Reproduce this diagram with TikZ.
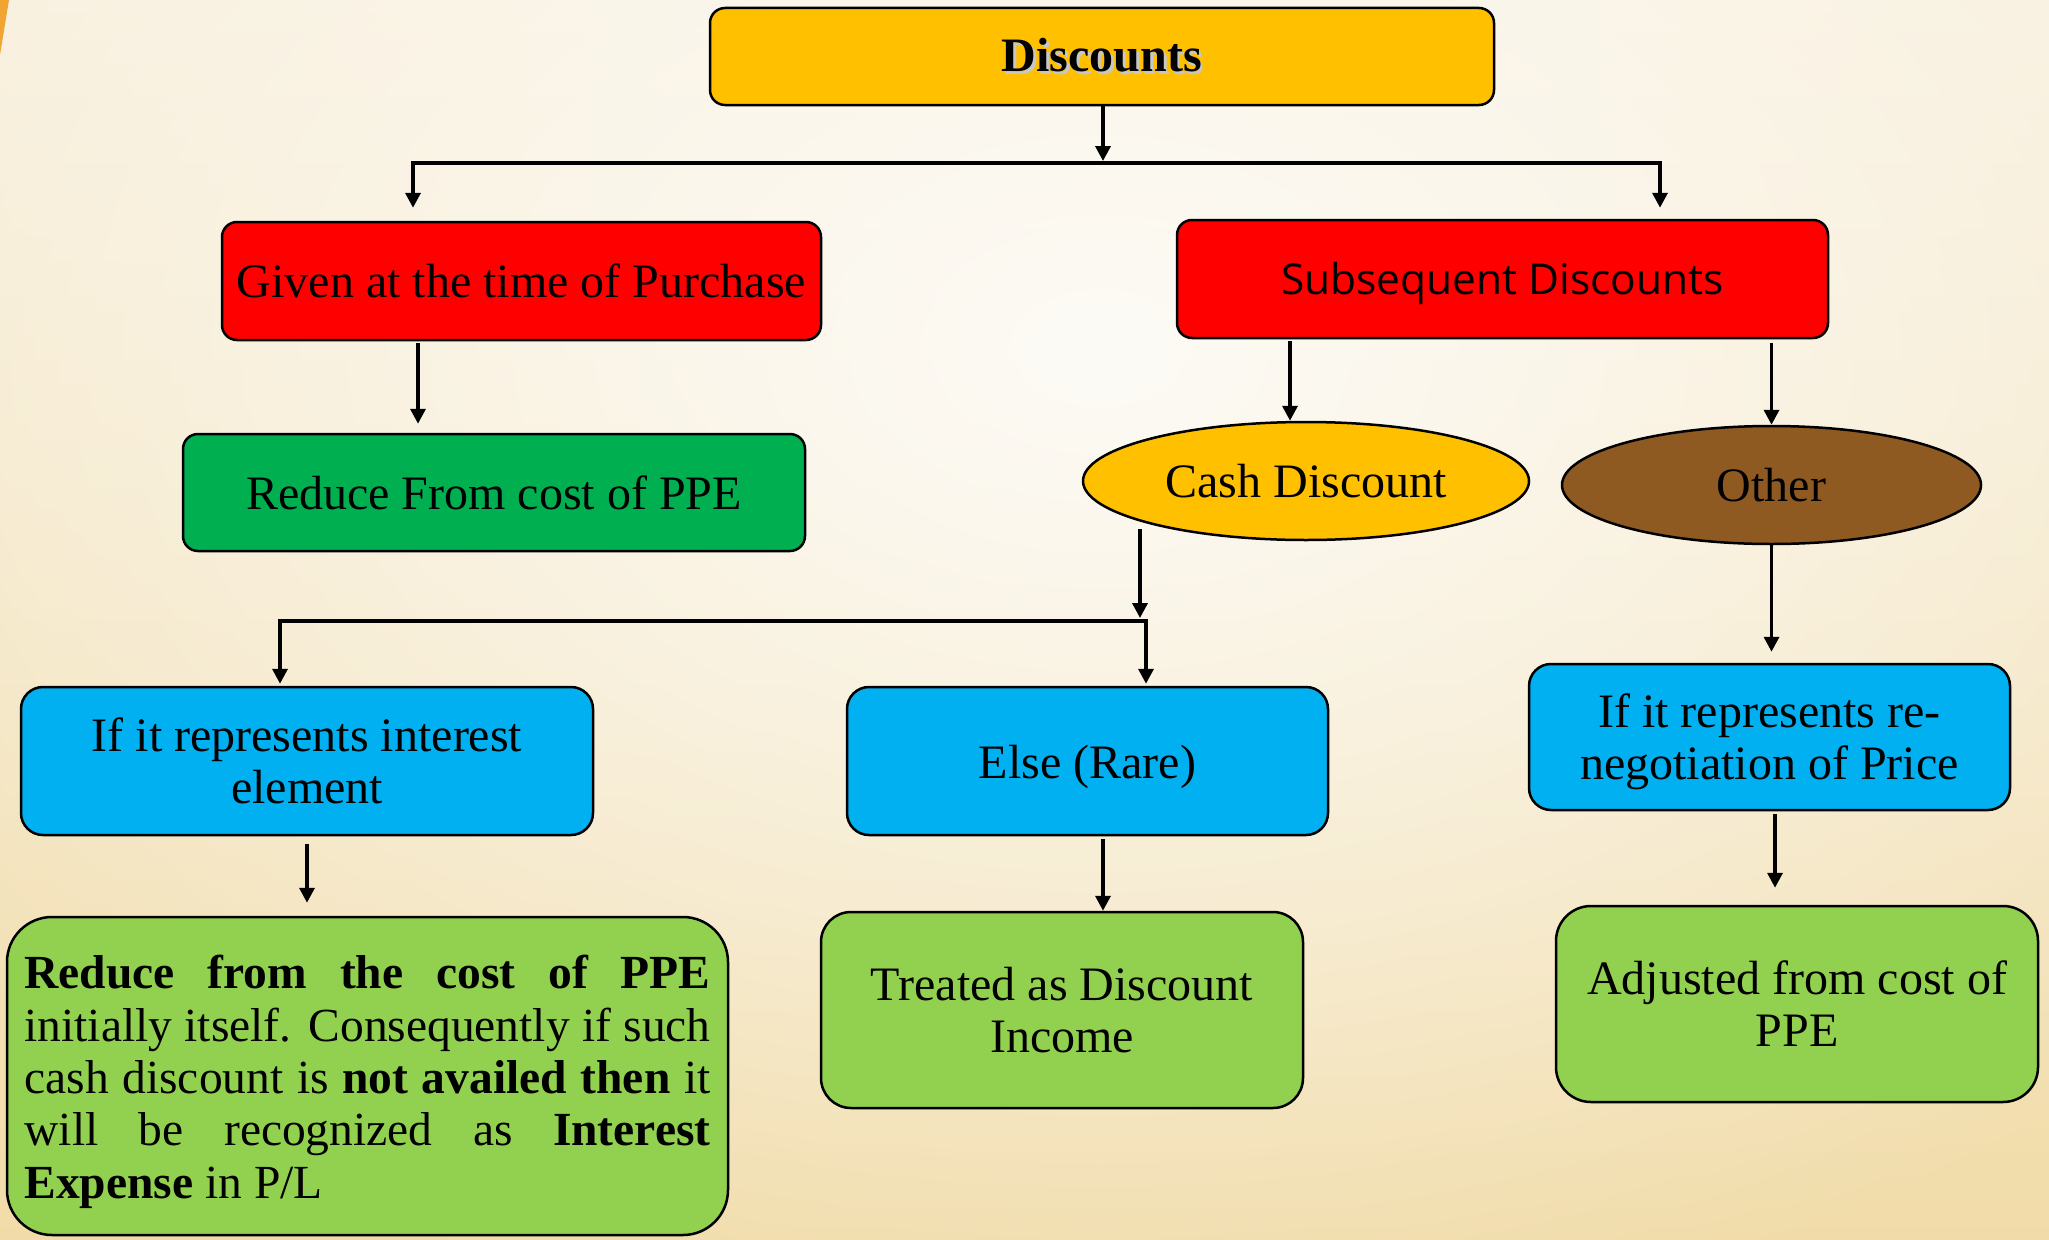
\documentclass[tikz,border=0pt]{standalone}
\usepackage{fontspec}
\setmainfont{Liberation Serif}
\newfontfamily\subsfont{Open Sans}
\usetikzlibrary{arrows.meta,shapes.geometric,fadings}

\definecolor{bgtop}{HTML}{F8EFDB}
\definecolor{bgbot}{HTML}{F1DCA9}
\definecolor{bgglow}{HTML}{FDFBF6}
\definecolor{stripe}{HTML}{F0A532}
\definecolor{gold}{HTML}{FFC000}
\definecolor{hotred}{HTML}{FF0000}
\definecolor{leaf}{HTML}{00B050}
\definecolor{sky}{HTML}{00B0F0}
\definecolor{lime}{HTML}{92D050}
\definecolor{bark}{HTML}{8F5922}

\tikzfading[name=glowfade, inner color=transparent!0, outer color=transparent!100]

\tikzset{
  rbox/.style={draw=black, line width=2.5pt, rounded corners=#1, align=center,
    inner sep=0pt, font=\fontsize{48}{52}\selectfont},
  oval/.style={ellipse, draw=black, line width=2.5pt, inner sep=0pt,
    font=\fontsize{48}{52}\selectfont},
  arr/.style={line width=3.5pt, line join=miter,
    -{Triangle[width=15pt,length=15pt]}},
}

\begin{document}
\begin{tikzpicture}[x=1pt,y=-1pt]
\useasboundingbox (0,0) rectangle (2049,1239);

% page background: warm vertical wash with a pale glow near the top
\begin{scope}
  \clip (0,0) rectangle (2049,1239);
  \shade[top color=bgtop, bottom color=bgbot] (0,0) rectangle (2049,1239);
  \fill[bgglow, path fading=glowfade] (-400,-650) rectangle (2600,1350);
  \fill[stripe] (0,0) -- (9,0) -- (0,55) -- cycle;
\end{scope}

% boxes
\node[rbox=15pt, fill=gold, minimum width=784pt, minimum height=97pt,
  font=\bfseries\fontsize{48}{52}\selectfont] (disc) at (1102,56.5)
  {\rlap{\raisebox{-2.5pt}{\hspace{2.5pt}\color{black!22}Discounts}}Discounts};

\node[rbox=15pt, fill=hotred, minimum width=599pt, minimum height=118pt] (given) at (521.5,281)
  {Given at the time of Purchase};
\node[rbox=15pt, fill=hotred, minimum width=651pt, minimum height=118pt,
  text height=31pt, text depth=0pt,
  font=\subsfont\fontsize{42.5}{50}\selectfont] (subs) at (1502.5,279)
  {Subsequent Discounts};

\node[rbox=15pt, fill=leaf, minimum width=622pt, minimum height=117pt] (reduce) at (494,492.5)
  {Reduce From cost of PPE};
\node[oval, fill=gold, minimum width=446pt, minimum height=118pt] (cash) at (1306,481)
  {Cash Discount};
\node[oval, fill=bark, minimum width=419pt, minimum height=118pt] (other) at (1771.5,485)
  {Other};

\node[rbox=22pt, fill=sky, minimum width=572pt, minimum height=148pt] (interest) at (307,761)
  {If it represents interest\\element};
\node[rbox=22pt, fill=sky, minimum width=481pt, minimum height=148pt,
  text height=34pt, text depth=0pt] (elsebox) at (1087.5,761)
  {Else (Rare)};
\node[rbox=22pt, fill=sky, minimum width=481pt, minimum height=146pt] (reneg) at (1769.5,737)
  {\rule{0pt}{43pt}If it represents re-\\negotiation of Price};

\node[rbox=45pt, fill=lime, minimum width=721pt, minimum height=318pt,
  text width=686pt, align=justify, font=\fontsize{47.5}{52.3}\selectfont] (expl) at (367.5,1076)
  {\rule{0pt}{45pt}\textbf{Reduce from the cost of PPE}\linebreak
   initially itself. Consequently if such\linebreak
   cash discount is \textbf{not availed then} it\linebreak
   will be recognized as \textbf{Interest}\linebreak
   \textbf{Expense} in P/L};
\node[rbox=30pt, fill=lime, minimum width=482pt, minimum height=196pt] (treated) at (1062,1010)
  {Treated as Discount\\Income};
\node[rbox=35pt, fill=lime, minimum width=482pt, minimum height=196pt] (adjusted) at (1797,1004)
  {Adjusted from cost of\\PPE};

% junction points of the connectors
\coordinate (busM) at (1103,163);
\coordinate (busL) at (413,163);
\coordinate (busR) at (1660,163);
\coordinate (gx) at (418,0);
\coordinate (sx) at (1290,0);
\coordinate (cashOut) at (1140,529);
\coordinate (b2m) at (1140,621);
\coordinate (b2l) at (280,621);
\coordinate (b2r) at (1146,621);
\coordinate (tx) at (1103,0);
\coordinate (rx) at (1775,0);

% connectors
\draw[arr, shorten >=2pt] (disc.south -| busM) -- (busM);
\draw[arr, shorten >=13pt] (busM) -- (busL) -- (given.north -| busL);
\draw[arr, shorten >=11pt] (busM) -- (busR) -- (subs.north -| busR);

\draw[arr, shorten <=2pt, shorten >=9pt] (given.south -| gx) -- (reduce.north -| gx);
\draw[arr, shorten <=2pt] (subs.south -| sx) -- (cash.north -| sx);
\draw[arr, shorten <=4pt] (subs.south -| other.north) -- (other.north);

\draw[arr, shorten >=3pt] (cashOut) -- (b2m);
\draw[arr, shorten >=2pt] (b2m) -- (b2l) -- (interest.north -| b2l);
\draw[arr, shorten >=2pt] (b2m) -- (b2r) -- (elsebox.north -| b2r);

\draw[arr, shorten >=11pt] (other.south) -- (reneg.north -| other.south);
\draw[arr, shorten <=8pt, shorten >=13pt] (interest.south) -- (expl.north -| interest.south);
\draw[arr, shorten <=3pt] (elsebox.south -| tx) -- (treated.north -| tx);
\draw[arr, shorten <=3pt, shorten >=17pt] (reneg.south -| rx) -- (adjusted.north -| rx);
\end{tikzpicture}
\end{document}
